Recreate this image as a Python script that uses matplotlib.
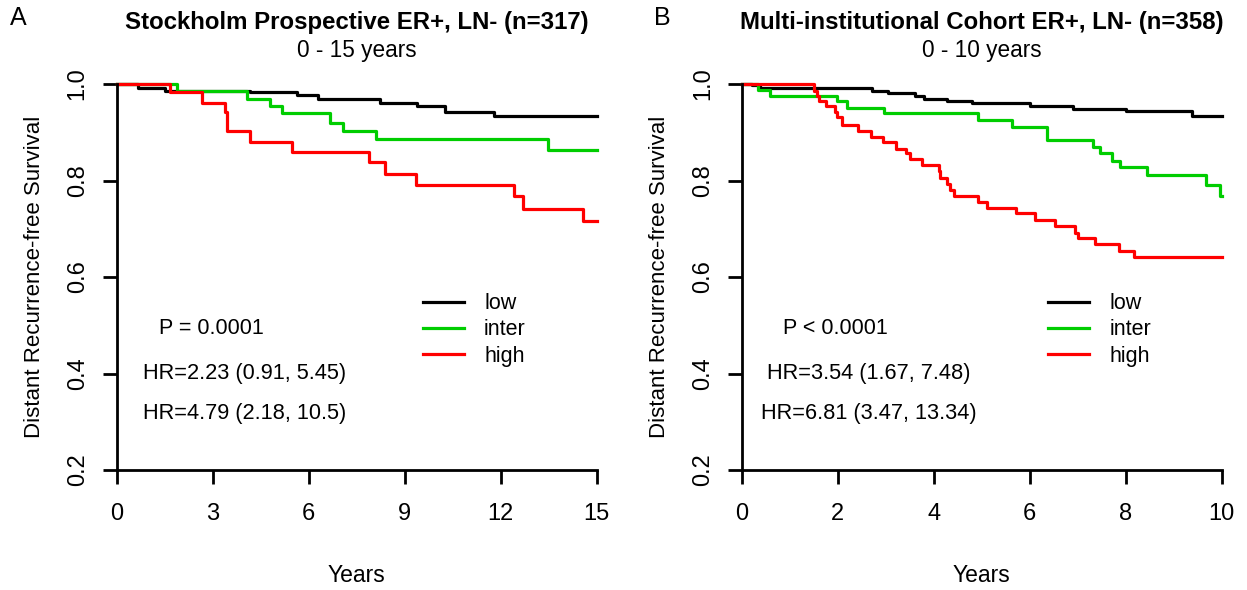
import numpy as np
import matplotlib
matplotlib.use('Agg')
import matplotlib.pyplot as plt

plt.rcParams['font.family'] = ['Liberation Sans', 'DejaVu Sans']

# Panel A: Stockholm prospective, 0-15 years
a_low_t = [0, 0.68, 1.52, 4.17, 5.63, 6.31, 8.23, 9.38, 10.27, 11.8, 15]
a_low_s = [1.0, 0.992, 0.986, 0.983, 0.977, 0.969, 0.961, 0.954, 0.941, 0.934, 0.934]
a_int_t = [0, 1.9, 4.07, 4.8, 5.16, 6.67, 7.09, 8.11, 13.49, 15]
a_int_s = [1.0, 0.985, 0.969, 0.954, 0.939, 0.920, 0.903, 0.886, 0.864, 0.864]
a_high_t = [0, 1.67, 2.66, 3.39, 3.44, 4.17, 5.49, 7.9, 8.39, 9.36, 12.42, 12.69, 14.59, 15]
a_high_s = [1.0, 0.983, 0.961, 0.941, 0.902, 0.879, 0.860, 0.838, 0.813, 0.790, 0.767, 0.741, 0.716, 0.716]

# Panel B: multi-institutional cohort, 0-10 years
b_low_t = [0, 0.21, 0.38, 2.71, 3.05, 3.61, 3.80, 4.27, 4.80, 6.0, 6.91, 8.01, 9.38, 10]
b_low_s = [1.0, 0.997, 0.992, 0.985, 0.981, 0.976, 0.969, 0.965, 0.961, 0.954, 0.948, 0.945, 0.934, 0.934]
b_int_t = [0, 0.33, 0.58, 1.99, 2.19, 2.96, 4.93, 5.63, 6.35, 7.31, 7.46, 7.71, 7.88, 8.44, 9.67, 9.96, 10]
b_int_s = [1.0, 0.988, 0.976, 0.964, 0.950, 0.939, 0.925, 0.910, 0.884, 0.869, 0.856, 0.841, 0.828, 0.812, 0.790, 0.768, 0.768]
b_high_t = [0, 1.51, 1.56, 1.61, 1.76, 1.94, 1.99, 2.08, 2.43, 2.69, 2.95, 3.21, 3.43, 3.51, 3.75,
            4.10, 4.13, 4.27, 4.33, 4.43, 4.93, 5.10, 5.71, 6.11, 6.53, 6.94, 7.01, 7.36, 7.86, 8.17, 10]
b_high_s = [1.0, 0.986, 0.976, 0.964, 0.955, 0.943, 0.931, 0.916, 0.903, 0.891, 0.879, 0.865, 0.858, 0.844, 0.832,
            0.820, 0.806, 0.793, 0.781, 0.768, 0.756, 0.744, 0.732, 0.718, 0.706, 0.692, 0.680, 0.668, 0.654, 0.642, 0.642]

groups = ['low', 'inter', 'high']
colors = ['black', '#00CD00', '#FF0000']

panels = [
    dict(letter='A', title='Stockholm Prospective ER+, LN- (n=317)', sub='0 - 15 years',
         xmax=15, xticks=[0, 3, 6, 9, 12, 15],
         curves=[(a_low_t, a_low_s), (a_int_t, a_int_s), (a_high_t, a_high_s)],
         ptext='P = 0.0001', ppos=(2.95, 0.493),
         hr=['HR=2.23 (0.91, 5.45)', 'HR=4.79 (2.18, 10.5)'], hrx=4.01),
    dict(letter='B', title='Multi-institutional Cohort ER+, LN- (n=358)', sub='0 - 10 years',
         xmax=10, xticks=[0, 2, 4, 6, 8, 10],
         curves=[(b_low_t, b_low_s), (b_int_t, b_int_s), (b_high_t, b_high_s)],
         ptext='P < 0.0001', ppos=(1.95, 0.493),
         hr=['HR=3.54 (1.67, 7.48)', 'HR=6.81 (3.47, 13.34)'], hrx=2.65),
]

fig = plt.figure(figsize=(12.47, 5.9), dpi=100)
lefts = [116.5 / 1247, 741.7 / 1247]

for p, left in zip(panels, lefts):
    ax = fig.add_axes([left, 120 / 590, 480 / 1247, 386 / 590])
    for (t, s), c, g in zip(p['curves'], colors, groups):
        ax.plot(t, s, drawstyle='steps-post', color=c, lw=2.3, label=g, clip_on=False)
    ax.set_xlim(0, p['xmax'])
    ax.set_ylim(0.2, 1.0)
    ax.set_xticks(p['xticks'])
    ax.set_yticks([0.2, 0.4, 0.6, 0.8, 1.0])
    ax.set_yticklabels(['0.2', '0.4', '0.6', '0.8', '1.0'], rotation=90, va='center')
    for side in ['top', 'right']:
        ax.spines[side].set_visible(False)
    for side in ['left', 'bottom']:
        ax.spines[side].set_linewidth(2)
    ax.tick_params(axis='both', direction='out', length=10, width=2, labelsize=17)
    ax.tick_params(axis='x', pad=14)
    ax.tick_params(axis='y', pad=10)
    ax.set_xlabel('Years', fontsize=16.5, labelpad=28)
    ax.set_ylabel('Distant Recurrence-free Survival', fontsize=16, labelpad=16)

    ax.text(p['ppos'][0], p['ppos'][1], p['ptext'], ha='center', va='center', fontsize=15.5)
    ax.text(p['hrx'], 0.399, p['hr'][0], ha='center', va='center', fontsize=15.7)
    ax.text(p['hrx'], 0.318, p['hr'][1], ha='center', va='center', fontsize=15.7)

    ax.legend(loc='center left', bbox_to_anchor=(0.638, 0.363), frameon=False, fontsize=15.5,
              handlelength=1.9, handletextpad=0.95, labelspacing=0.24, borderpad=0,
              borderaxespad=0)

    cx = left + 240 / 1247
    fig.text(cx, 1 - 22 / 590, p['title'], ha='center', va='center', fontsize=17.3, fontweight='bold')
    fig.text(cx, 1 - 50 / 590, p['sub'], ha='center', va='center', fontsize=16.3)

fig.text(18 / 1247, 1 - 18 / 590, 'A', ha='center', va='center', fontsize=18)
fig.text(662 / 1247, 1 - 18 / 590, 'B', ha='center', va='center', fontsize=18)

fig.savefig('out.png', dpi=100)
